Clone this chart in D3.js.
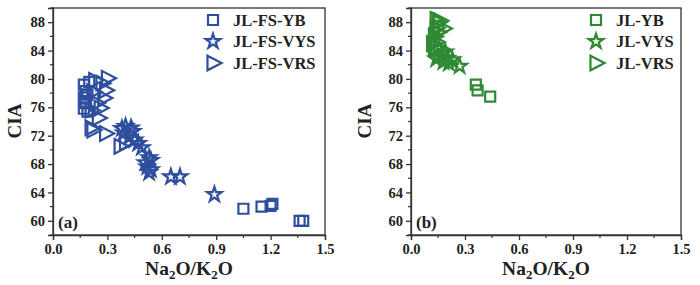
<!DOCTYPE html>
<html>
<head>
<meta charset="utf-8">
<script src="https://cdn.jsdelivr.net/npm/d3@7"></script>
<style>
  body { margin: 0; background: #fff; }
  text { font-family: "Liberation Serif", "Times New Roman", serif; font-weight: bold; fill: #222; }
</style>
</head>
<body>
<svg id="chart" width="700" height="285"></svg>
<script>
// panel (a) - JL-FS samples
const fsYB_x = [0.17, 0.18, 0.17, 0.18, 0.17, 0.19, 0.20, 0.19, 1.05, 1.15, 1.20, 1.21, 1.36, 1.38];
const fsYB_y = [79.2, 78.3, 77.4, 76.6, 75.8, 75.4, 79.6, 77.8, 61.7, 62.0, 62.1, 62.4, 60.0, 60.0];
const fsVYS_x = [0.38, 0.40, 0.43, 0.39, 0.44, 0.42, 0.45, 0.47, 0.49, 0.53, 0.54, 0.51, 0.52, 0.54, 0.53, 0.65, 0.70, 0.89];
const fsVYS_y = [73.0, 73.3, 73.1, 72.4, 72.6, 71.8, 71.4, 70.9, 70.3, 68.9, 68.5, 68.2, 67.6, 67.2, 66.8, 66.2, 66.2, 63.7];
const fsVRS_x = [0.30, 0.27, 0.23, 0.29, 0.22, 0.28, 0.24, 0.26, 0.21, 0.25, 0.21, 0.29, 0.22, 0.37, 0.40];
const fsVRS_y = [80.1, 79.4, 79.8, 78.4, 78.2, 77.3, 76.6, 75.9, 75.6, 74.5, 73.1, 72.3, 72.8, 70.5, 71.0];

// panel (b) - JL samples
const yb_x = [0.13, 0.14, 0.13, 0.15, 0.36, 0.37, 0.44];
const yb_y = [85.5, 84.0, 86.5, 87.5, 79.2, 78.4, 77.5];
const vys_x = [0.15, 0.18, 0.20, 0.17, 0.23, 0.21, 0.27, 0.19, 0.14];
const vys_y = [83.2, 82.4, 82.9, 83.6, 82.7, 82.2, 81.8, 83.8, 82.8];
const vrs_x = [0.15, 0.18, 0.14, 0.13, 0.14, 0.13, 0.15, 0.16, 0.14, 0.12, 0.16];
const vrs_y = [88.0, 87.1, 87.2, 86.0, 85.2, 84.4, 86.6, 88.2, 88.4, 85.0, 84.3];

const xTicks = [0.0, 0.3, 0.6, 0.9, 1.2, 1.5];
const yTicks = [60, 64, 68, 72, 76, 80, 84, 88];

const svg = d3.select("#chart");

// right-pointing triangle
const triRight = {
  draw(ctx, size) {
    const h = Math.sqrt(size);
    ctx.moveTo(-h * 0.45, -h * 0.6);
    ctx.lineTo(h * 0.7, 0);
    ctx.lineTo(-h * 0.45, h * 0.6);
    ctx.closePath();
  }
};
const shapes = {
  square: d3.symbol().type(d3.symbolSquare).size(100)(),
  star: d3.symbol().type(d3.symbolStar).size(66)(),
  tri: d3.symbol().type(triRight).size(150)()
};

function panel(opts) {
  const x = d3.scaleLinear().domain([0, 1.5]).range([opts.left, opts.right]);
  const y = d3.scaleLinear().domain([58, 90]).range([235, 8]);
  const g = svg.append("g");

  // frame
  g.append("rect")
    .attr("x", opts.left).attr("y", 8)
    .attr("width", opts.right - opts.left).attr("height", 227)
    .attr("fill", "none").attr("stroke", "#333").attr("stroke-width", 1.3);

  // minor ticks
  const xMinor = d3.range(0.15, 1.5, 0.3);
  const yMinor = d3.range(58, 90.1, 2).filter(v => v % 4 !== 0);
  g.selectAll(".xm").data(xMinor).join("line")
    .attr("x1", d => x(d)).attr("x2", d => x(d))
    .attr("y1", 235).attr("y2", 238).attr("stroke", "#333").attr("stroke-width", 1.2);
  g.selectAll(".ym").data(yMinor).join("line")
    .attr("class", "ym")
    .attr("y1", d => y(d)).attr("y2", d => y(d))
    .attr("x1", opts.left).attr("x2", opts.left - 3).attr("stroke", "#333").attr("stroke-width", 1.2);

  const xa = g.append("g").attr("transform", "translate(0,235)")
    .call(d3.axisBottom(x).tickValues(xTicks).tickFormat(d3.format(".1f")).tickSize(5).tickPadding(4));
  const ya = g.append("g").attr("transform", `translate(${opts.left},0)`)
    .call(d3.axisLeft(y).tickValues(yTicks).tickSize(5).tickPadding(3));
  [xa, ya].forEach(a => {
    a.select(".domain").attr("stroke", "#333").attr("stroke-width", 1.3);
    a.selectAll(".tick line").attr("stroke", "#333").attr("stroke-width", 1.3);
    a.selectAll(".tick text").attr("font-size", 14.5).attr("fill", "#222")
      .attr("font-family", '"Liberation Serif", serif').attr("font-weight", "bold");
  });

  // axis titles
  g.append("text").attr("transform", `translate(${opts.ciaX},121) rotate(-90)`)
    .attr("text-anchor", "middle").attr("font-size", 19).text("CIA");
  const xt = g.append("text").attr("x", (opts.left + opts.right) / 2).attr("y", 275)
    .attr("text-anchor", "middle").attr("font-size", 19.5);
  xt.append("tspan").text("Na");
  xt.append("tspan").attr("font-size", 13).attr("dy", 4).text("2");
  xt.append("tspan").attr("dy", -4).text("O/K");
  xt.append("tspan").attr("font-size", 13).attr("dy", 4).text("2");
  xt.append("tspan").attr("dy", -4).text("O");

  g.append("text").attr("x", opts.left + 5).attr("y", 228).attr("font-size", 17)
    .text(opts.tag);

  // data
  opts.series.forEach(s => {
    g.append("g").selectAll("path").data(s.xs.map((v, i) => [v, s.ys[i]])).join("path")
      .attr("d", shapes[s.shape])
      .attr("transform", d => `translate(${x(d[0])},${y(d[1])})`)
      .attr("fill", "none").attr("stroke", opts.color).attr("stroke-width", 2.2);
  });

  // legend
  opts.series.forEach((s, i) => {
    const ly = 20 + i * 21.5;
    g.append("path").attr("d", shapes[s.shape])
      .attr("transform", `translate(${opts.legX},${ly})`)
      .attr("fill", "none").attr("stroke", opts.color).attr("stroke-width", 2.2);
    g.append("text").attr("x", opts.legX + 20).attr("y", ly + 5.5).attr("font-size", 16.5).text(s.name);
  });
}

panel({
  left: 53, right: 325, legX: 213, ciaX: 21, tag: "(a)", color: "#2e4f9e",
  series: [
    { name: "JL-FS-YB", shape: "square", xs: fsYB_x, ys: fsYB_y },
    { name: "JL-FS-VYS", shape: "star", xs: fsVYS_x, ys: fsVYS_y },
    { name: "JL-FS-VRS", shape: "tri", xs: fsVRS_x, ys: fsVRS_y }
  ]
});
panel({
  left: 411, right: 681, legX: 596, ciaX: 371, tag: "(b)", color: "#2f8a34",
  series: [
    { name: "JL-YB", shape: "square", xs: yb_x, ys: yb_y },
    { name: "JL-VYS", shape: "star", xs: vys_x, ys: vys_y },
    { name: "JL-VRS", shape: "tri", xs: vrs_x, ys: vrs_y }
  ]
});
</script>
</body>
</html>
